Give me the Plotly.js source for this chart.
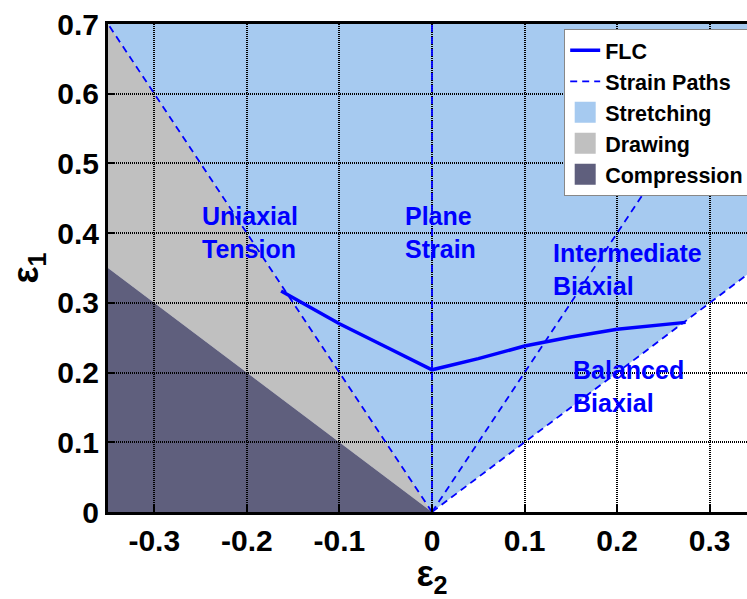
<!DOCTYPE html>
<html>
<head>
<meta charset="utf-8">
<script src="https://cdn.plot.ly/plotly-3.0.1.min.js"></script>
<style>
html,body{margin:0;padding:0;overflow:hidden;background:#fff;}
#chart{width:770px;height:599px;}
</style>
</head>
<body>
<div id="chart"></div>
<script>
// ---- data ----
const xTicks = [-0.3, -0.2, -0.1, 0, 0.1, 0.2, 0.3];
const xTickText = ['-0.3', '-0.2', '-0.1', '0', '0.1', '0.2', '0.3'];
const yTicks = [0, 0.1, 0.2, 0.3, 0.4, 0.5, 0.6, 0.7];
const yTickText = ['0', '0.1', '0.2', '0.3', '0.4', '0.5', '0.6', '0.7'];

// Forming limit curve
const flcX = [-0.163, -0.13, -0.1, -0.05, 0, 0.05, 0.1, 0.15, 0.2, 0.274];
const flcY = [0.317, 0.293, 0.270, 0.237, 0.204, 0.220, 0.238, 0.251, 0.262, 0.272];

// Strain paths (from origin)
const pathEndX = [-0.35, 0, 0.35, 0.35];
const pathEndY = [0.7, 0.7, 0.7, 0.35];

// Regions
const stretchX = [-0.35, 0, 0.35, 0.35];
const stretchY = [0.7, 0, 0.35, 0.7];
const drawX = [-0.35, -0.35, 0];
const drawY = [0.7, 0.35, 0];
const compX = [-0.35, -0.35, 0];
const compY = [0.35, 0, 0];

const regionNames = ['Stretching', 'Drawing', 'Compression'];
const regionColors = ['#a6caf0', '#c0c0c0', '#5f5f7d'];

// Labels
const labelText = ['Uniaxial<br>Tension', 'Plane<br>Strain', 'Intermediate<br>Biaxial', 'Balanced<br>Biaxial'];
const labelX = [-0.251, -0.031, 0.129, 0.150];
const labelY = [0.448, 0.448, 0.395, 0.227];

// ---- build ----
const FONT = 'Liberation Sans, Arial, Helvetica, sans-serif';
function polyPath(xs, ys) {
  return 'M' + xs.map((x, i) => x + ',' + ys[i]).join('L') + 'Z';
}
const regionsXY = [[stretchX, stretchY], [drawX, drawY], [compX, compY]];
const shapes = regionsXY.map((r, i) => ({
  type: 'path', xref: 'x', yref: 'y', layer: 'below',
  path: polyPath(r[0], r[1]),
  fillcolor: regionColors[i], line: {width: 0}
}));

const spX = [], spY = [];
pathEndX.forEach((x, i) => { spX.push(0, x, null); spY.push(0, pathEndY[i], null); });

const traces = [
  {x: flcX, y: flcY, mode: 'lines', name: 'FLC', line: {color: '#0000ff', width: 3.5}, hoverinfo: 'skip'},
  {x: spX, y: spY, mode: 'lines', name: 'Strain Paths', line: {color: '#0000ff', width: 1.8, dash: '7px,5px'}, hoverinfo: 'skip'}
];
regionNames.forEach((n, i) => traces.push({
  x: [null], y: [null], mode: 'markers', name: n, hoverinfo: 'skip',
  marker: {symbol: 'square', size: 16, color: regionColors[i], line: {color: regionColors[i], width: 5}}
}));

const annotations = labelText.map((t, i) => ({
  x: labelX[i], y: labelY[i], xref: 'x', yref: 'y', text: t, showarrow: false,
  xanchor: 'left', yanchor: 'top', align: 'left',
  font: {family: FONT, size: 25, color: '#0000ff', weight: 'bold'}
}));

const axisCommon = {
  showline: true, linecolor: '#000', linewidth: 3, mirror: true,
  ticks: 'inside', ticklen: 7, tickwidth: 2, tickcolor: '#000',
  showgrid: true, gridcolor: '#000', gridwidth: 2, griddash: '1px,1px',
  zeroline: false, layer: 'above traces',
  tickfont: {family: FONT, size: 30, color: '#000', weight: 'bold'}
};

const layout = {
  width: 770, height: 599,
  margin: {l: 108, r: 14, t: 24, b: 87},
  paper_bgcolor: '#fff', plot_bgcolor: '#fff',
  xaxis: Object.assign({}, axisCommon, {
    range: [-0.35, 0.35], tickmode: 'array', tickvals: xTicks, ticktext: xTickText,
    title: {text: 'ε<sub>2</sub>', standoff: 4, font: {family: FONT, size: 36, color: '#000', weight: 'bold'}}
  }),
  yaxis: Object.assign({}, axisCommon, {
    range: [0, 0.7], tickmode: 'array', tickvals: yTicks, ticktext: yTickText,
    title: {text: 'ε<sub>1</sub>', standoff: 8, font: {family: FONT, size: 36, color: '#000', weight: 'bold'}}
  }),
  shapes: shapes,
  annotations: annotations,
  showlegend: true,
  legend: {
    x: 0.704, y: 0.99, xanchor: 'left', yanchor: 'top',
    bgcolor: '#fff', bordercolor: '#888', borderwidth: 1,
    font: {family: FONT, size: 21.5, color: '#000', weight: 'bold'},
    tracegroupgap: 0
  }
};

Plotly.newPlot('chart', traces, layout, {staticPlot: true, displayModeBar: false});
</script>
</body>
</html>
